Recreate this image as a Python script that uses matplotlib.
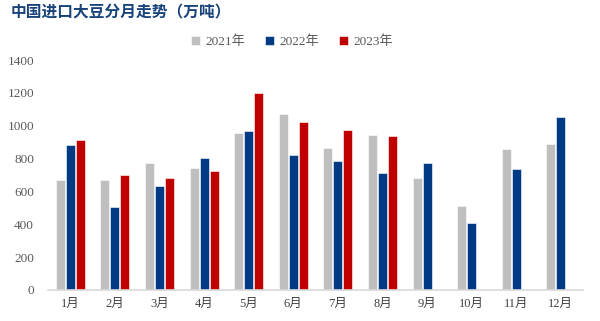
import matplotlib
matplotlib.use("Agg")
import matplotlib.pyplot as plt
import numpy as np

months = ["1月", "2月", "3月", "4月", "5月", "6月", "7月", "8月", "9月", "10月", "11月", "12月"]
y2021 = [668, 668, 772, 745, 958, 1071, 866, 943, 684, 509, 856, 887]
y2022 = [883, 505, 633, 806, 968, 822, 785, 712, 771, 408, 735, 1055]
y2023 = [913, 700, 684, 724, 1201, 1025, 974, 935]

COLORS = {"2021年": "#BFBFBF", "2022年": "#003A84", "2023年": "#C00000"}
SERIF = ["Liberation Serif", "Noto Sans CJK SC"]


def main():
    fig = plt.figure(figsize=(6, 3.21), dpi=100)
    ax = fig.add_axes([0.08, 0.097, 0.892, 0.716])
    x = np.arange(len(months))
    w = 0.2
    off = 0.225
    for i, (name, vals) in enumerate([("2021年", y2021), ("2022年", y2022), ("2023年", y2023)]):
        xs = x[:len(vals)] + (i - 1) * off
        ax.bar(xs, vals, width=w, color=COLORS[name], label=name, zorder=2,
               edgecolor="white", linewidth=0.4)
    ax.set_xlim(-0.5, 11.5)
    ax.set_ylim(0, 1400)
    ax.set_yticks(range(0, 1401, 200))
    ax.set_xticks(x)
    ax.set_xticklabels(months, family=SERIF, fontsize=9, color="#404040")
    for lab in ax.get_yticklabels():
        lab.set_family(SERIF)
        lab.set_fontsize(9.5)
        lab.set_color("#595959")
    for s in ["top", "right", "left"]:
        ax.spines[s].set_visible(False)
    ax.spines["bottom"].set_color("#D9D9D9")
    ax.spines["bottom"].set_linewidth(1.2)
    ax.tick_params(length=0, pad=6)
    ax.tick_params(axis="y", pad=10)
    fig.text(0.017, 0.962, "中国进口大豆分月走势（万吨）", family=["Noto Sans CJK SC"],
             fontsize=11.3, fontweight="bold", color="#17427A", va="center", ha="left")
    leg = fig.legend(loc="center", bbox_to_anchor=(0.487, 0.87), ncol=3, frameon=False,
                     handlelength=0.7, handleheight=0.7, columnspacing=1.5, handletextpad=0.4,
                     prop={"family": SERIF, "size": 9.5})
    for t in leg.get_texts():
        t.set_color("#595959")
    fig.savefig("out.png", dpi=100)


if __name__ == "__main__":
    main()
